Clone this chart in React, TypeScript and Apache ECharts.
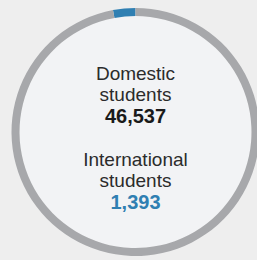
import React, { useEffect, useRef } from "react";
import * as echarts from "echarts";

const categories = ["Domestic students", "International students"];
const values = [46537, 1393];
const colors = ["#a7a8ab", "#2f7fb2"];
const valueColors = ["#1a1a1a", "#2f7fb2"];

export default function App() {
  const ref = useRef<HTMLDivElement>(null);
  useEffect(() => {
    document.body.style.margin = "0";
    const chart = echarts.init(ref.current!, null, { renderer: "svg" });
    const cx = 135.5;
    const cy = 132;
    const blockTops = [63, 148.6];
    const texts = categories.map((c, i) => {
      const words = c.split(" ");
      return {
        type: "text",
        x: cx,
        y: blockTops[i],
        z: 100,
        silent: true,
        style: {
          text: words.map((w) => `{l|${w}}`).join("\n") + `\n{v|${values[i].toLocaleString("en-US")}}`,
          align: "center",
          verticalAlign: "top",
          rich: {
            l: {
              fill: "#2b2b2b",
              fontFamily: "'Liberation Sans', Arial, sans-serif",
              fontSize: 19,
              fontWeight: "normal",
              lineHeight: 21,
              align: "center",
            },
            v: {
              fill: valueColors[i],
              fontFamily: "'Liberation Sans', Arial, sans-serif",
              fontSize: 20,
              fontWeight: "bold",
              lineHeight: 22,
              align: "center",
            },
          },
        },
      };
    });
    chart.setOption({
      animation: false,
      backgroundColor: "#eeeeee",
      series: [
        {
          type: "pie",
          silent: true,
          z: 1,
          radius: [0, 116],
          center: [cx, cy],
          label: { show: false },
          labelLine: { show: false },
          data: [{ value: 1, name: "fill", itemStyle: { color: "#f2f3f5" } }],
        },
        {
          type: "pie",
          silent: true,
          z: 1,
          radius: [116, 124],
          center: [cx, cy],
          startAngle: 90,
          clockwise: false,
          label: { show: false },
          labelLine: { show: false },
          data: [
            { name: categories[1], value: values[1], itemStyle: { color: colors[1] } },
            { name: categories[0], value: values[0], itemStyle: { color: colors[0] } },
          ],
        },
      ],
      graphic: { elements: texts },
    });
    return () => chart.dispose();
  }, []);
  return <div ref={ref} style={{ position: "absolute", left: 0, top: 0, width: 257, height: 260 }} />;
}
